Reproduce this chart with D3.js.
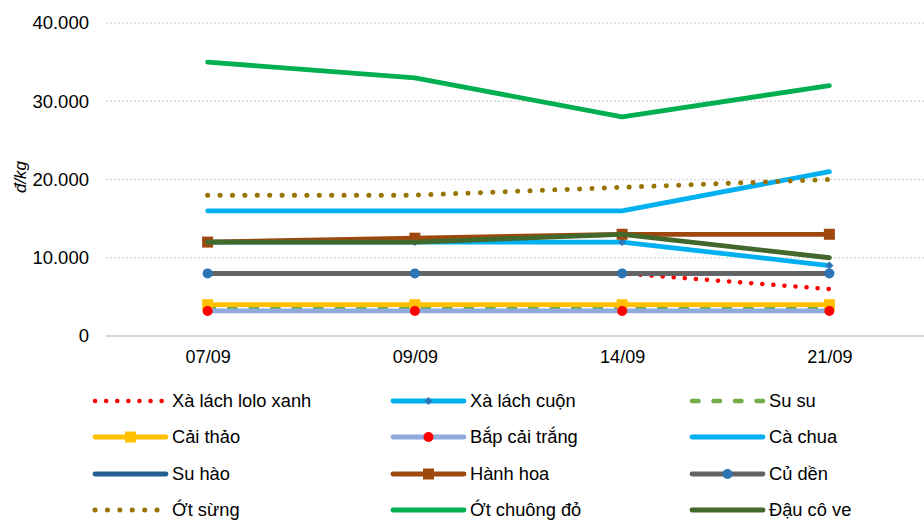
<!DOCTYPE html>
<html>
<head>
<meta charset="utf-8">
<script src="https://cdn.jsdelivr.net/npm/d3@7/dist/d3.min.js"></script>
<style>
  html, body { margin: 0; padding: 0; background: #fff; }
  svg { display: block; }
  text { font-family: "Liberation Sans", Arial, sans-serif; fill: #000; }
</style>
</head>
<body>
<svg id="chart" width="924" height="521"></svg>
<script>
// Weekly vegetable prices (đ/kg)
const dates = ["07/09", "09/09", "14/09", "21/09"];
const yTicks = [0, 10000, 20000, 30000, 40000];

const names = [
  "Xà lách lolo xanh", "Xà lách cuộn", "Su su",
  "Cải thảo", "Bắp cải trắng", "Cà chua",
  "Su hào", "Hành hoa", "Củ dền",
  "Ớt sừng", "Ớt chuông đỏ", "Đậu cô ve"
];

const xaLachLolo  = [8000, 8000, 8000, 6000];
const xaLachCuon  = [12000, 12000, 12000, 9000];
const suSu        = [3500, 3500, 3500, 3500];
const caiThao     = [4000, 4000, 4000, 4000];
const bapCaiTrang = [3200, 3200, 3200, 3200];
const caChua      = [16000, 16000, 16000, 21000];
const suHao       = [8000, 8000, 8000, 8000];
const hanhHoa     = [12000, 12500, 13000, 13000];
const cuDen       = [8000, 8000, 8000, 8000];
const otSung      = [18000, 18000, 19000, 20000];
const otChuongDo  = [35000, 33000, 28000, 32000];
const dauCoVe     = [12000, 12000, 13000, 10000];

const values = [xaLachLolo, xaLachCuon, suSu, caiThao, bapCaiTrang, caChua,
                suHao, hanhHoa, cuDen, otSung, otChuongDo, dauCoVe];

// Line styling per series
const styles = [
  { color: "#FF0000", dash: "0.1,11", width: 4.5 },
  { color: "#00B0F0", width: 4.8, marker: "diamond", mcolor: "#2E75B6", msize: 8 },
  { color: "#70AD47", dash: "6.5,15", width: 4.5 },
  { color: "#FFC000", width: 4.8, marker: "square", mcolor: "#FFC000", msize: 11 },
  { color: "#8FAADC", width: 4.8, marker: "circle", mcolor: "#FF0000", msize: 10 },
  { color: "#00B0F0", width: 4.8 },
  { color: "#255E91", width: 4.8 },
  { color: "#9E480E", width: 4.8, marker: "square", mcolor: "#9E480E", msize: 11 },
  { color: "#636363", width: 4.8, marker: "circle", mcolor: "#2E75B6", msize: 10 },
  { color: "#997300", dash: "0.1,12.3", width: 5 },
  { color: "#00B050", width: 4.8 },
  { color: "#43682B", width: 4.8 }
];

const svg = d3.select("#chart");

const x = d3.scalePoint().domain(dates).range([104, 933]).padding(0.5);
const y = d3.scaleLinear().domain([0, 40000]).range([336, 23]);

const fmt = v => v === 0 ? "0" : d3.format(",")(v).replace(/,/g, ".");

// Gridlines
svg.append("g")
  .selectAll("line")
  .data(yTicks.filter(t => t > 0))
  .join("line")
  .attr("x1", 106).attr("x2", 924)
  .attr("y1", d => y(d)).attr("y2", d => y(d))
  .attr("stroke", "#D9D9D9")
  .attr("stroke-width", 1.5)
  .attr("stroke-dasharray", "2,2");

// Baseline
svg.append("line")
  .attr("x1", 106).attr("x2", 924)
  .attr("y1", y(0)).attr("y2", y(0))
  .attr("stroke", "#D9D9D9")
  .attr("stroke-width", 2);

// Y axis labels
const yAxis = d3.axisLeft(y).tickValues(yTicks).tickFormat(fmt).tickSize(0).tickPadding(0);
svg.append("g")
  .attr("transform", "translate(89,0)")
  .call(yAxis)
  .call(g => g.select(".domain").remove())
  .selectAll("text")
  .attr("font-size", 18.5)
  .attr("font-family", "Liberation Sans, Arial, sans-serif")
  .attr("fill", "#000");

// Y axis title
svg.append("text")
  .attr("transform", "translate(26,177) rotate(-90)")
  .attr("text-anchor", "middle")
  .attr("font-size", 17)
  .attr("font-style", "italic")
  .text("đ/kg");

// X axis labels
const xAxis = d3.axisBottom(x).tickSize(0).tickPadding(0);
svg.append("g")
  .attr("transform", "translate(0,350)")
  .call(xAxis)
  .call(g => g.select(".domain").remove())
  .selectAll("text")
  .attr("font-size", 18)
  .attr("font-family", "Liberation Sans, Arial, sans-serif")
  .attr("fill", "#000");

function drawMarker(g, type, cx, cy, size, color) {
  if (type === "circle") {
    g.append("circle").attr("cx", cx).attr("cy", cy).attr("r", size / 2).attr("fill", color);
  } else if (type === "square") {
    g.append("rect").attr("x", cx - size / 2).attr("y", cy - size / 2)
      .attr("width", size).attr("height", size).attr("fill", color);
  } else if (type === "diamond") {
    const s = size / 2;
    g.append("path")
      .attr("d", `M${cx},${cy - s}L${cx + s},${cy}L${cx},${cy + s}L${cx - s},${cy}Z`)
      .attr("fill", color);
  }
}

const line = d3.line().x((d, i) => x(dates[i])).y(d => y(d));

// Series lines with markers
const plot = svg.append("g");
values.forEach((vals, k) => {
  const st = styles[k];
  const g = plot.append("g");
  g.append("path")
    .datum(vals)
    .attr("d", line)
    .attr("fill", "none")
    .attr("stroke", st.color)
    .attr("stroke-width", st.width)
    .attr("stroke-linecap", "round")
    .attr("stroke-linejoin", "round")
    .attr("stroke-dasharray", st.dash || null);
  if (st.marker) {
    vals.forEach((v, i) => drawMarker(g, st.marker, x(dates[i]), y(v), st.msize, st.mcolor));
  }
});

// Legend: 3 columns x 4 rows
const colX = [95, 393, 692];
const rowY = [401, 437, 474, 510];
const legend = svg.append("g");
names.forEach((name, k) => {
  const st = styles[k];
  const lx = colX[k % 3], ly = rowY[Math.floor(k / 3)];
  const g = legend.append("g");
  g.append("line")
    .attr("x1", lx).attr("x2", lx + 71)
    .attr("y1", ly).attr("y2", ly)
    .attr("stroke", st.color)
    .attr("stroke-width", st.width)
    .attr("stroke-linecap", "round")
    .attr("stroke-dasharray", st.dash || null);
  if (st.marker) drawMarker(g, st.marker, lx + 35.5, ly, st.msize, st.mcolor);
  g.append("text")
    .attr("x", lx + 77)
    .attr("y", ly)
    .attr("dy", "0.35em")
    .attr("font-size", 18.3)
    .text(name);
});
</script>
</body>
</html>
